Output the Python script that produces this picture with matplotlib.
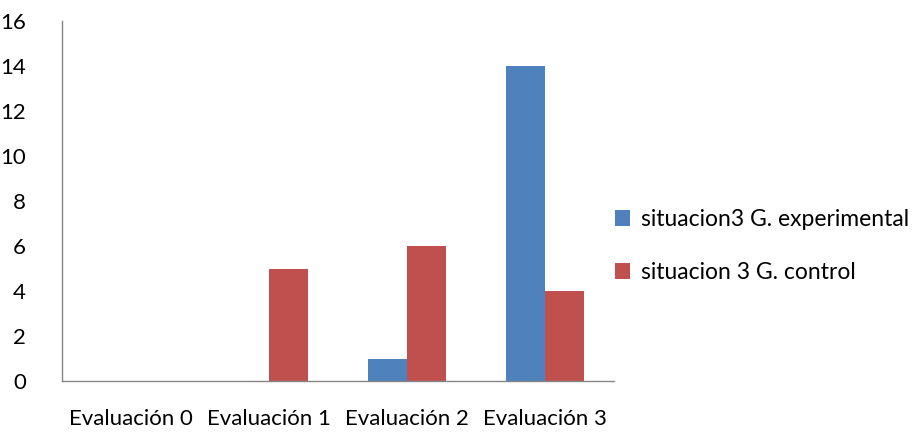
import matplotlib.pyplot as plt
import numpy as np

plt.rcParams['font.family'] = ['Lato', 'DejaVu Sans']

categorias = ['Evaluación 0', 'Evaluación 1', 'Evaluación 2', 'Evaluación 3']
experimental = [0, 0, 1, 14]
control = [0, 5, 6, 4]
series = ['situacion3 G. experimental', 'situacion 3 G. control']

fig = plt.figure(figsize=(9.13, 4.32), dpi=100)
ax = fig.add_axes([0.0679, 0.118, 0.6046, 0.833])

x = np.arange(len(categorias))
w = 0.285
ax.bar(x - w/2, experimental, w, color='#4F81BD', label=series[0])
ax.bar(x + w/2, control, w, color='#C0504D', label=series[1])

ax.set_xlim(-0.5, 3.5)
ax.set_ylim(0, 16)
ax.set_yticks(range(0, 17, 2))
ax.set_xticks(x)
ax.set_xticklabels(categorias)
ax.tick_params(length=0, labelsize=16, colors='black')
ax.tick_params(axis='x', pad=20)
ax.tick_params(axis='y', pad=26)
for lbl in ax.get_yticklabels():
    lbl.set_horizontalalignment('right')

for s in ['top', 'right']:
    ax.spines[s].set_visible(False)
for s in ['left', 'bottom']:
    ax.spines[s].set_color('#868686')
    ax.spines[s].set_linewidth(1)

# leyenda sin marco a la derecha del grafico
ax.legend(loc='center left', bbox_to_anchor=(0.985, 0.375), frameon=False,
          fontsize=16.5, handlelength=0.65, handleheight=0.65, handletextpad=0.5,
          labelspacing=1.4, borderaxespad=0)

fig.savefig('out.png', dpi=100)
